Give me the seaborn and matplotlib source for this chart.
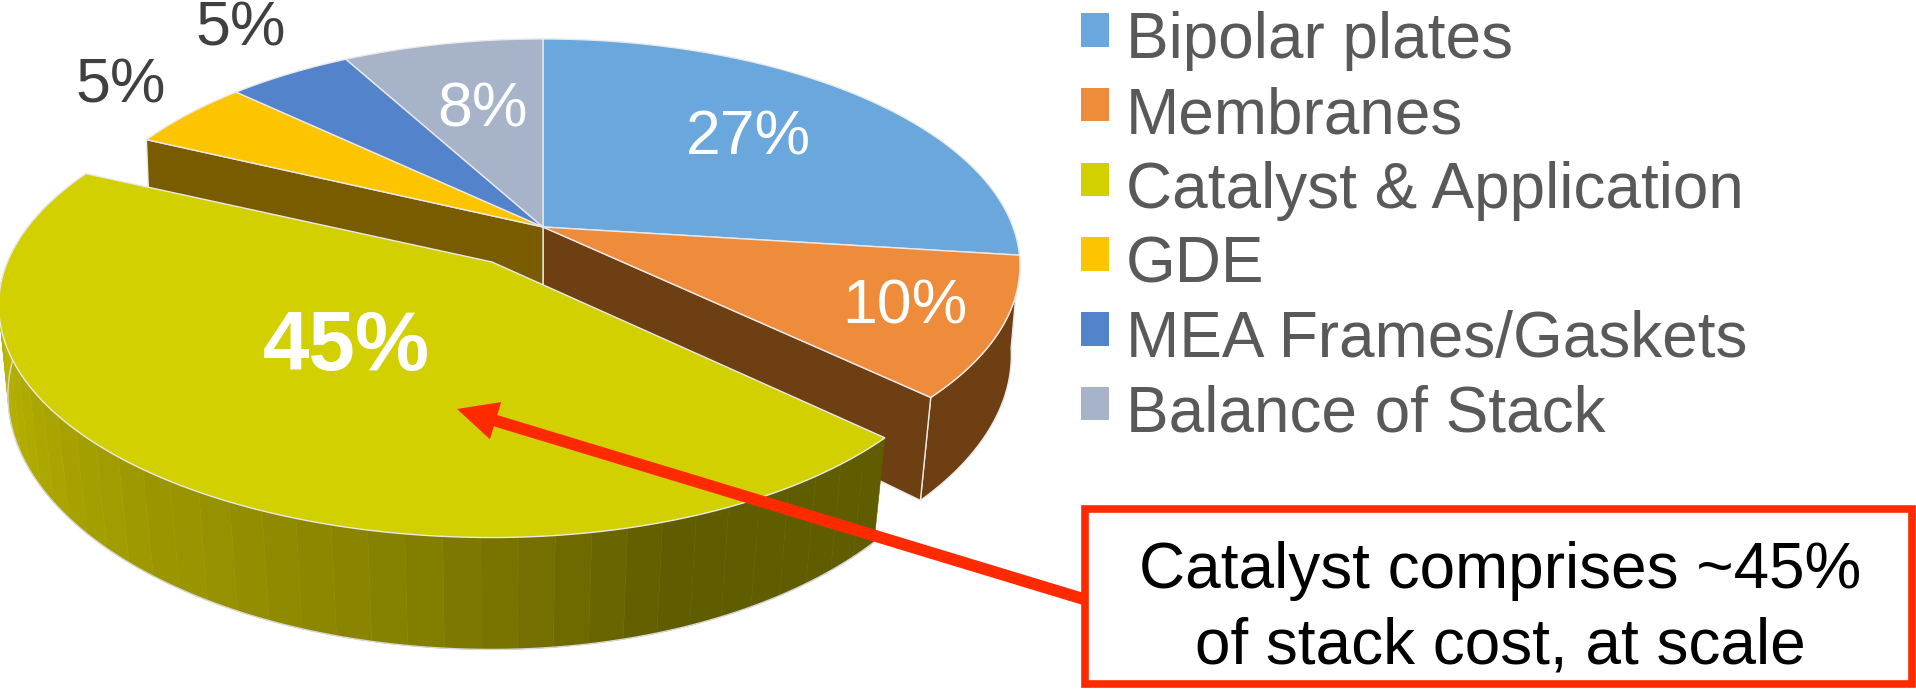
import numpy as np
import seaborn as sns
import matplotlib.pyplot as plt
from matplotlib.patches import Patch, Polygon, Rectangle, FancyArrowPatch

# --- data ---
categories = ["Bipolar plates", "Membranes", "Catalyst & Application", "GDE",
              "MEA Frames/Gaskets", "Balance of Stack"]
shares = [27, 10, 45, 5, 5, 8]
top_colors = ["#6AA7DC", "#EE8C3B", "#D2D000", "#FDC500", "#5283CB", "#A6B3C8"]
callout = "Catalyst comprises ~45%\nof stack cost, at scale"

# --- projection of the tilted disc, in pixels of the figure ---
CX, CY = 543, 227
RX = 470
BODY = (220, 0.17)    # vertical radius, perspective
SLICE = (224, 0.187)  # the pulled-out slice sits closer to the camera
EXPLODE = np.array([-51, 35])
EDGE = "#E9E9E9"
RED = "#FF2A00"


def top_point(theta, view=BODY):
    ry, persp = view
    t = np.radians(theta)
    x, y = np.sin(t), -np.cos(t)
    w = 1 - persp * y
    return np.column_stack([CX + RX * x / w, CY + ry * y / w]), w


def bottom_point(theta, view=BODY):
    p, w = top_point(theta, view)
    shift = 0.112 - 0.0966 * w
    return np.column_stack([CX + (1 - shift) * (p[:, 0] - CX), p[:, 1] + 91 / w])


def place_slice(points):
    # left half of the slice is a bit wider than the projection gives
    pts = points + EXPLODE
    apex = CX + EXPLODE[0]
    left = pts[:, 0] < apex
    pts[left, 0] = apex - (apex - pts[left, 0]) * 1.031
    return pts


def arc(a, b, n=80):
    return np.linspace(a, b, n)


sns.set_theme(style="white")
plt.rcParams["font.family"] = ["Liberation Sans", "DejaVu Sans"]
palette = sns.color_palette(top_colors)

fig = plt.figure(figsize=(19.16, 6.89), dpi=100)
ax = fig.add_axes([0, 0, 1, 1])
ax.set_xlim(0, 1916)
ax.set_ylim(689, 0)
ax.axis("off")

edges = np.cumsum([0] + shares) / sum(shares) * 360
centre = np.array([[CX, CY]])


def poly(points, color, z, edge=EDGE, lw=1.0):
    ax.add_patch(Polygon(points, closed=True, facecolor=color, edgecolor=edge, linewidth=lw, zorder=z))


def cut_face(theta, color, z):
    t = np.array([theta])
    c_bottom = centre + [0, 91]
    poly(np.vstack([centre, top_point(t)[0], bottom_point(t), c_bottom]), color, z)


# body behind the pulled-out slice
memb_a, memb_b = edges[1], edges[2]
ths = arc(memb_a, memb_b)
poly(np.vstack([top_point(ths)[0], bottom_point(ths)[::-1]]), "#6E3F12", 2)
cut_face(memb_b, "#6E3F12", 3)
cut_face(edges[3], "#7A5C00", 3)

for i in [0, 1, 3, 4, 5]:
    ths = arc(edges[i], edges[i + 1])
    poly(np.vstack([centre, top_point(ths)[0]]), palette[i], 4)

# pulled-out slice: banded rim, then its top
cat_a, cat_b = edges[2], edges[3]
n_bands = 44
rim = sns.blend_palette(["#605C00", "#605C00", "#857F00", "#9A9500", "#AEA900", "#BCB800", "#C2BE00"],
                        n_colors=n_bands)
band_edges = np.linspace(cat_a, cat_b, n_bands + 1)
for j in range(n_bands):
    ths = arc(band_edges[j], band_edges[j + 1], 5)
    pts = place_slice(np.vstack([top_point(ths, SLICE)[0], bottom_point(ths, SLICE)[::-1]]))
    ax.add_patch(Polygon(pts, closed=True, facecolor=rim[j], edgecolor=rim[j], linewidth=0.4, zorder=5))
ths = arc(cat_a, cat_b, 160)
ax.plot(*place_slice(bottom_point(ths, SLICE)).T, color="#D8D8D8", lw=1, zorder=5)
poly(place_slice(np.vstack([centre, top_point(ths, SLICE)[0]])), palette[2], 6)

# percent labels
label_pos = [(748, 138), (905, 307), (346, 348), (121, 86), (241, 29), (483, 110)]
label_col = ["white", "white", "white", "#404040", "#404040", "white"]
for v, (x, y), c in zip(shares, label_pos, label_col):
    big = v == 45
    ax.text(x, y, f"{v}%", color=c, ha="center", va="center", zorder=10,
            fontsize=60 if big else 45, fontweight="bold" if big else "normal")

# arrow and callout
ax.add_patch(FancyArrowPatch((1090, 601), (457, 409), mutation_scale=10, lw=0, color=RED, zorder=8,
                             shrinkA=0, shrinkB=0,
                             arrowstyle="simple,head_length=2.9,head_width=2.8,tail_width=0.85"))
ax.add_patch(Rectangle((1085, 509), 827, 175, facecolor="white", edgecolor=RED, linewidth=5.5, zorder=9))
ax.text(1500, 609, callout, ha="center", va="center", color="black", fontsize=46,
        linespacing=1.32, zorder=10)

# legend
handles = [Patch(facecolor=c, edgecolor="none", label=n) for c, n in zip(palette, categories)]
leg = ax.legend(handles=handles, loc="upper left", bbox_to_anchor=(1075, 5), bbox_transform=ax.transData,
                frameon=False, fontsize=46, labelcolor="#595959", handlelength=0.44, handleheight=0.43,
                handletextpad=0.26, labelspacing=0.23, borderaxespad=0, borderpad=0.1)
for p in leg.get_patches():
    p.set_y(p.get_y() + 4)

fig.savefig("out.png", dpi=100)
